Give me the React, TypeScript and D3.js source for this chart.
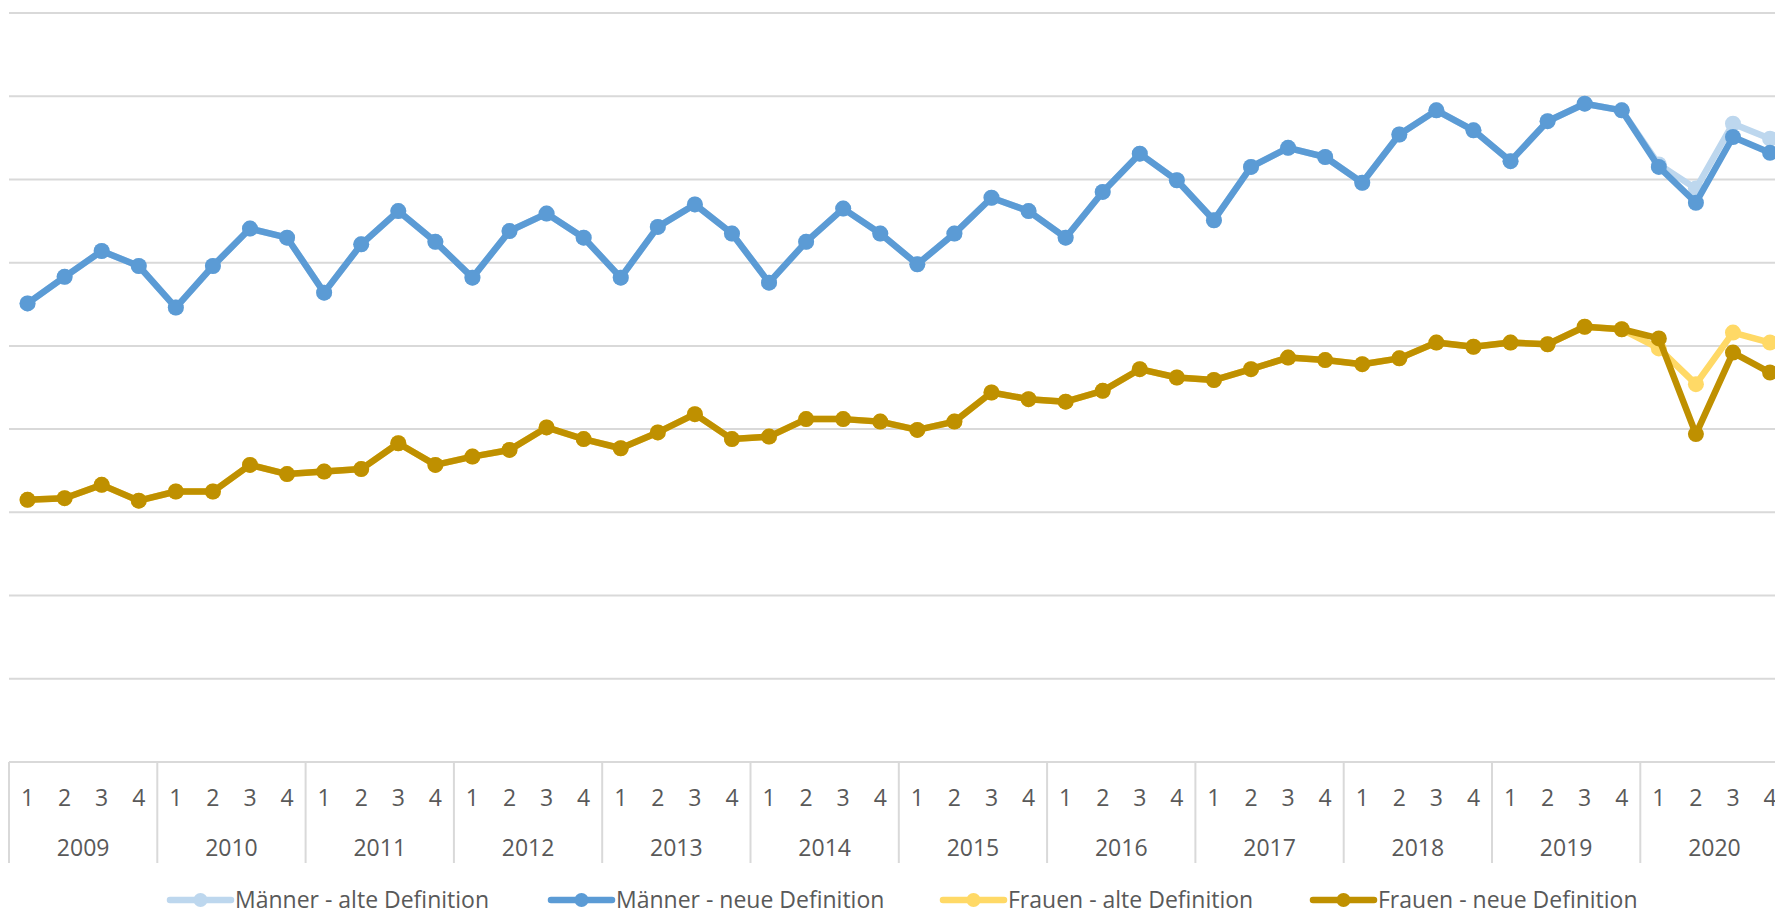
import React, { useEffect, useRef } from 'react';
import * as d3 from 'd3';

// Jahre und Quartale der x-Achse
const years = ['2009', '2010', '2011', '2012', '2013', '2014', '2015', '2016', '2017', '2018', '2019', '2020'];
const quarters = ['1', '2', '3', '4'];

// Werte pro Quartal (ab 2009 Q1)
const maennerNeu = [
  55.1, 58.3, 61.4, 59.6,
  54.6, 59.6, 64.1, 63.0,
  56.4, 62.2, 66.2, 62.5,
  58.2, 63.8, 65.9, 63.0,
  58.2, 64.3, 67.0, 63.5,
  57.6, 62.5, 66.5, 63.5,
  59.8, 63.5, 67.8, 66.2,
  63.0, 68.5, 73.1, 69.9,
  65.1, 71.5, 73.8, 72.7,
  69.6, 75.4, 78.3, 75.9,
  72.2, 77.0, 79.1, 78.3,
  71.5, 67.2, 75.1, 73.2,
];
const maennerAlt = [...maennerNeu.slice(0, 44), 71.8, 68.9, 76.7, 74.9];

const frauenNeu = [
  31.5, 31.7, 33.3, 31.4,
  32.5, 32.5, 35.7, 34.6,
  34.9, 35.2, 38.3, 35.7,
  36.7, 37.5, 40.2, 38.8,
  37.7, 39.6, 41.8, 38.8,
  39.1, 41.2, 41.2, 40.9,
  39.9, 40.9, 44.4, 43.6,
  43.3, 44.6, 47.2, 46.2,
  45.9, 47.2, 48.6, 48.3,
  47.8, 48.5, 50.4, 49.9,
  50.4, 50.2, 52.3, 52.0,
  50.9, 39.4, 49.2, 46.8,
];
const frauenAlt = [...frauenNeu.slice(0, 44), 49.7, 45.4, 51.6, 50.4];

const seriesNames = ['Männer - alte Definition', 'Männer - neue Definition', 'Frauen - alte Definition', 'Frauen - neue Definition'];
const seriesColors = ['#BDD7EE', '#5B9BD5', '#FFD966', '#BF9000'];
const seriesValues = [maennerAlt, maennerNeu, frauenAlt, frauenNeu];

const W = 1775;
const H = 916;
const FONT = "'Open Sans', 'Noto Sans', sans-serif";

const App = () => {
  const ref = useRef<SVGSVGElement | null>(null);

  useEffect(() => {
    const svg = d3.select(ref.current);
    svg.selectAll('*').remove();

    const left = 9;
    const yearW = 148.3;
    const right = left + yearW * years.length;
    const top = 13;
    const bottom = 762;

    const n = years.length * quarters.length;
    const x = d3.scaleBand<number>().domain(d3.range(n)).range([left, right]);
    const y = d3.scaleLinear().domain([0, 90]).range([bottom, top]);
    const cx = (i: number) => (x(i) as number) + x.bandwidth() / 2;

    // Gitternetz
    svg.append('g')
      .selectAll('line')
      .data(y.ticks(9))
      .enter()
      .append('line')
      .attr('x1', left)
      .attr('x2', right)
      .attr('y1', d => y(d))
      .attr('y2', d => y(d))
      .attr('stroke', '#D9D9D9')
      .attr('stroke-width', 2);

    // Jahres-Trennlinien unter der Achse
    svg.append('g')
      .selectAll('line')
      .data(d3.range(years.length + 1))
      .enter()
      .append('line')
      .attr('x1', k => left + k * yearW)
      .attr('x2', k => left + k * yearW)
      .attr('y1', bottom)
      .attr('y2', 863)
      .attr('stroke', '#D9D9D9')
      .attr('stroke-width', 2);

    // Quartalsbeschriftung
    svg.append('g')
      .selectAll('text')
      .data(d3.range(n))
      .enter()
      .append('text')
      .attr('x', i => cx(i))
      .attr('y', 798)
      .attr('dy', '0.35em')
      .attr('text-anchor', 'middle')
      .attr('fill', '#595959')
      .style('font-family', FONT)
      .style('font-size', '23px')
      .text(i => quarters[i % 4]);

    // Jahresbeschriftung
    svg.append('g')
      .selectAll('text')
      .data(years)
      .enter()
      .append('text')
      .attr('x', (d, k) => left + (k + 0.5) * yearW)
      .attr('y', 848)
      .attr('dy', '0.35em')
      .attr('text-anchor', 'middle')
      .attr('fill', '#595959')
      .style('font-family', FONT)
      .style('font-size', '23px')
      .text(d => d);

    const line = d3.line<number>()
      .x((d, i) => cx(i))
      .y(d => y(d));

    seriesValues.forEach((vals, s) => {
      const g = svg.append('g');
      g.append('path')
        .attr('d', line(vals))
        .attr('fill', 'none')
        .attr('stroke', seriesColors[s])
        .attr('stroke-width', 6.5)
        .attr('stroke-linejoin', 'round');
      g.selectAll('circle')
        .data(vals)
        .enter()
        .append('circle')
        .attr('cx', (d, i) => cx(i))
        .attr('cy', d => y(d))
        .attr('r', 8)
        .attr('fill', seriesColors[s]);
    });

    // Legende
    const legendX = [170, 551, 943, 1313];
    const legendY = 900;
    const lg = svg.append('g')
      .selectAll('g')
      .data(seriesNames)
      .enter()
      .append('g')
      .attr('transform', (d, i) => `translate(${legendX[i]},${legendY})`);
    lg.append('line')
      .attr('x1', 0)
      .attr('x2', 61)
      .attr('stroke', (d, i) => seriesColors[i])
      .attr('stroke-width', 6.5)
      .attr('stroke-linecap', 'round');
    lg.append('circle')
      .attr('cx', 30.5)
      .attr('r', 7)
      .attr('fill', (d, i) => seriesColors[i]);
    lg.append('text')
      .attr('x', 65)
      .attr('dy', '0.35em')
      .attr('fill', '#595959')
      .style('font-family', FONT)
      .style('font-size', '23px')
      .text(d => d);
  }, []);

  return (
    <div style={{ position: 'absolute', left: 0, top: 0 }}>
      <svg ref={ref} width={W} height={H} style={{ display: 'block', background: '#fff' }} />
    </div>
  );
};

export default App;
